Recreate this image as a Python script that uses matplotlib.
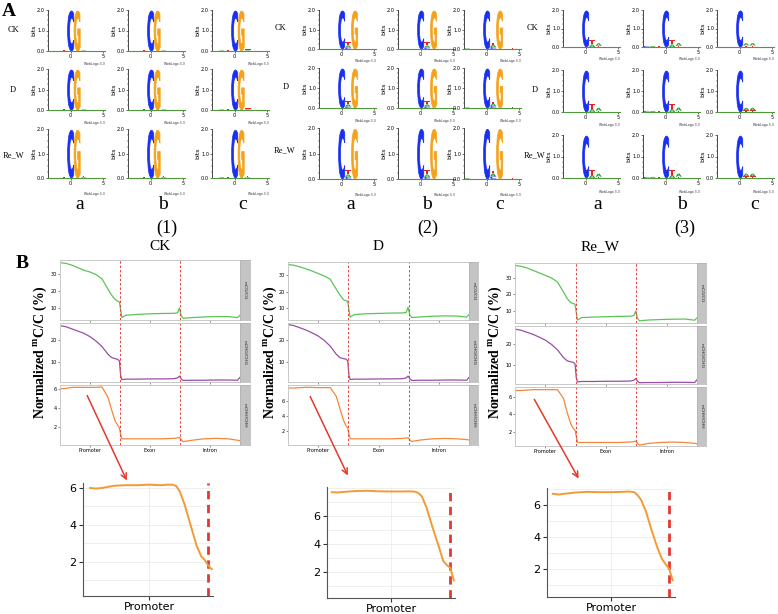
import matplotlib
matplotlib.use("Agg")
import matplotlib.pyplot as plt
from matplotlib.textpath import TextPath
from matplotlib.patches import PathPatch, FancyArrowPatch
from matplotlib.font_manager import FontProperties
from matplotlib.transforms import Affine2D
from matplotlib.ticker import MultipleLocator

plt.rcParams['mathtext.fontset'] = 'custom'
plt.rcParams['mathtext.rm'] = 'Liberation Serif'
plt.rcParams['mathtext.bf'] = 'Liberation Serif:bold'

# ---- data: sequence logos (position, letter, bits), stacked bottom to top
logo_cg = [(-1, 'T', 0.04), (0, 'C', 1.95), (1, 'G', 1.95), (2, 'A', 0.03), (2, 'T', 0.04)]
logo_cg_c = [(-2, 'A', 0.03), (-1, 'T', 0.05), (0, 'C', 1.95), (1, 'G', 1.95), (2, 'A', 0.03), (2, 'T', 0.05)]
logo_chg = [(0, 'C', 1.95), (1, 'C', 0.08), (1, 'A', 0.1), (1, 'T', 0.16), (2, 'G', 1.95)]
logo_chg_c = [(-3, 'A', 0.03), (0, 'C', 1.95), (1, 'C', 0.1), (1, 'A', 0.12), (1, 'T', 0.1), (2, 'G', 1.95), (4, 'T', 0.04)]
logo_chh = [(0, 'C', 1.95), (1, 'A', 0.14), (1, 'T', 0.22), (2, 'T', 0.06), (2, 'A', 0.14)]
logo_chh_b = [(-3, 'C', 0.05), (-2, 'A', 0.05), (-1, 'T', 0.06), (0, 'C', 1.95), (1, 'A', 0.14), (1, 'T', 0.24),
              (2, 'T', 0.06), (2, 'A', 0.15)]
logo_chh_c = [(0, 'C', 1.95), (1, 'T', 0.08), (1, 'A', 0.12), (2, 'T', 0.08), (2, 'A', 0.12)]

samples = ['CK', 'D', 'Re_W']
columns = ['a', 'b', 'c']
group_names = ['(1)', '(2)', '(3)']

# ---- data: methylation level along gene body (0-1 promoter, 1-2 exon, 2-3 intron)
regions = ['Promoter', 'Exon', 'Intron']
contexts = ['mCG/CG', 'mCHG/CHG', 'mCHH/CHH']
gene_x = [0.0, 0.1, 0.2, 0.3, 0.4, 0.5, 0.6, 0.7, 0.8, 0.86, 0.92, 0.96, 0.99, 1.01, 1.03,
          1.1, 1.3, 1.5, 1.7, 1.9, 1.96, 1.99, 2.02, 2.05, 2.2, 2.4, 2.6, 2.8, 2.96, 3.0]

ck_cg = [36.5, 36, 35, 33.5, 32, 31, 29.5, 27, 21, 17.5, 15, 14, 13.5, 9, 4.5,
         5.8, 6.3, 6.6, 6.8, 6.9, 7.2, 10, 5.5, 4, 4.4, 4.8, 5.0, 5.0, 4.4, 5.8]
ck_chg = [26.5, 26, 25, 24, 23, 21.5, 19.5, 17, 13.5, 12, 11.5, 11.2, 10.5, 4, 2.0,
          2.2, 2.2, 2.3, 2.3, 2.4, 2.8, 3.6, 2.3, 1.6, 1.7, 1.7, 1.8, 1.8, 1.7, 3.0]
ck_chh = [6.0, 6.05, 6.15, 6.15, 6.15, 6.15, 6.15, 6.2, 5.1, 3.8, 2.6, 2.2, 1.9, 1.2, 0.75,
          0.75, 0.75, 0.75, 0.75, 0.8, 0.85, 0.9, 0.65, 0.45, 0.6, 0.75, 0.8, 0.75, 0.6, 0.55]

d_cg = [36.5, 36, 35, 33.8, 32.5, 31, 29.5, 27.5, 21.5, 18, 15, 14.5, 14, 9, 4.5,
        6.0, 6.5, 6.7, 6.9, 7.0, 7.3, 10.5, 5.5, 4.2, 4.6, 5.0, 5.2, 5.1, 4.5, 6.0]
d_chg = [27, 26.5, 25.5, 24.5, 23.2, 21.8, 19.8, 17.2, 13.5, 12, 11.5, 11.3, 10.5, 4, 2.0,
         2.2, 2.2, 2.3, 2.3, 2.4, 2.8, 3.6, 2.3, 1.6, 1.7, 1.7, 1.8, 1.8, 1.7, 3.0]
d_chh = [7.7, 7.7, 7.75, 7.8, 7.78, 7.75, 7.75, 7.75, 6.6, 5.0, 3.4, 2.7, 2.4, 1.6, 0.95,
         0.95, 0.95, 0.95, 0.95, 1.0, 1.05, 1.1, 0.8, 0.6, 0.8, 0.95, 1.0, 0.95, 0.85, 0.8]

rew_cg = [37.5, 37, 36, 34.5, 33, 31.5, 30, 27.5, 21.5, 17.5, 15, 14.5, 14, 9, 4.5,
          6.0, 6.3, 6.5, 6.7, 6.8, 7.2, 10, 5.5, 4.0, 4.5, 4.8, 5.0, 5.1, 4.4, 5.8]
rew_chg = [27, 26.5, 25.5, 24.5, 23.2, 21.8, 19.8, 17.2, 13.5, 12, 11.5, 11.3, 10.5, 4, 2.0,
           2.2, 2.2, 2.3, 2.3, 2.4, 2.8, 3.6, 2.3, 1.6, 1.7, 1.7, 1.8, 1.8, 1.7, 3.0]
rew_chh = [6.7, 6.7, 6.75, 6.8, 6.8, 6.8, 6.8, 6.8, 5.8, 4.2, 2.9, 2.4, 2.2, 1.5, 0.8,
           0.8, 0.8, 0.8, 0.8, 0.85, 0.9, 0.95, 0.7, 0.5, 0.7, 0.8, 0.85, 0.8, 0.7, 0.65]

# ---- data: zoomed promoter CHH
promoter_x = [0.0, 0.05, 0.1, 0.2, 0.3, 0.4, 0.5, 0.6, 0.65, 0.7, 0.73, 0.76, 0.8, 0.85, 0.9,
              0.94, 0.97, 1.0, 1.03]
ck_promoter = [6.0, 5.97, 6.0, 6.12, 6.15, 6.15, 6.18, 6.15, 6.18, 6.18, 6.1, 5.8, 5.1, 4.0, 2.9,
               2.3, 2.1, 1.8, 1.6]
d_promoter = [7.7, 7.68, 7.72, 7.78, 7.8, 7.76, 7.75, 7.75, 7.76, 7.74, 7.65, 7.4, 6.6, 5.2, 3.9,
              2.8, 2.5, 2.3, 1.4]
rew_promoter = [6.7, 6.65, 6.7, 6.78, 6.82, 6.8, 6.8, 6.82, 6.84, 6.8, 6.6, 6.3, 5.6, 4.4, 3.3,
                2.6, 2.3, 2.0, 1.3]

W, H = 778, 614
fig = plt.figure(figsize=(W / 100, H / 100), dpi=100)
fig.patch.set_facecolor('white')


def add_px(l, t, r, b):
    return fig.add_axes([l / W, 1 - b / H, (r - l) / W, (b - t) / H])


def fxy(x, y):
    return (x / W, 1 - y / H)


serif = 'Liberation Serif'
logo_font = FontProperties(family='DejaVu Sans', weight='bold')
letter_colors = {'A': '#1f9e2a', 'C': '#1b2ff0', 'G': '#f5a21b', 'T': '#e8231f'}


def draw_logo(ax, stacks):
    base = {}
    for pos, ch, h in stacks:
        y0 = base.get(pos, 0)
        tp = TextPath((0, 0), ch, size=1, prop=logo_font)
        bb = tp.get_extents()
        tr = Affine2D().translate(-bb.x0, -bb.y0).scale(0.95 / bb.width, h / bb.height).translate(pos - 0.475, y0)
        edge = 0.5 if h > 0.5 else 0
        ax.add_patch(PathPatch(tr.transform_path(tp), fc=letter_colors[ch], ec=letter_colors[ch], lw=edge))
        base[pos] = y0 + h
    ax.set_xlim(-3.5, 5.3)
    ax.set_ylim(0, 2.0)
    for s in ['top', 'right']:
        ax.spines[s].set_visible(False)
    ax.spines['left'].set_linewidth(0.5)
    ax.spines['bottom'].set_color('#4f9a3a')
    ax.spines['bottom'].set_linewidth(0.8)
    ax.set_xticks([0, 5])
    ax.xaxis.set_minor_locator(MultipleLocator(1))
    ax.set_yticks([0, 1, 2])
    ax.set_yticklabels(['0.0', '1.0', '2.0'])
    ax.yaxis.set_minor_locator(MultipleLocator(0.25))
    ax.tick_params(labelsize=3.6, length=1.5, width=0.4, pad=0.6)
    ax.tick_params(which='minor', length=0.8, width=0.3)
    ax.set_ylabel('bits', fontsize=4.5, labelpad=0.5)
    ax.text(1.0, -0.34, 'WebLogo 3.3', transform=ax.transAxes, fontsize=2.3, ha='right', color='#334')


# ---------------- Part A
fig.text(*fxy(9, 12), 'A', fontsize=14, fontweight='bold', family=serif, ha='center', va='center')

group_lefts = [[48, 128, 212], [319, 398, 464], [563, 643, 717]]
group_rows = [[(10, 51), (69, 110), (129, 178)],
              [(10, 49), (68, 108), (128, 179)],
              [(10, 47), (70, 112), (135, 178)]]
row_label_pos = [[(13, 30), (13, 90), (14, 155)],
                 [(280, 28), (286, 87), (285, 150)],
                 [(532, 28), (535, 90), (535, 155)]]
col_letter_x = [[80, 163, 243], [351, 427, 500], [598, 682, 755]]
group_label_x = [167, 428, 685]
group_logos = [[logo_cg, logo_cg, logo_cg_c],
               [logo_chg, logo_chg, logo_chg_c],
               [logo_chh, logo_chh_b, logo_chh_c]]

for g in range(3):
    for r in range(3):
        top, bot = group_rows[g][r]
        for c in range(3):
            l = group_lefts[g][c]
            ax = add_px(l, top, l + 57, bot)
            draw_logo(ax, group_logos[g][c])
        lx, ly = row_label_pos[g][r]
        fig.text(*fxy(lx, ly), samples[r], fontsize=6, family=serif, ha='center', va='center')
    for c in range(3):
        fig.text(*fxy(col_letter_x[g][c], 205), columns[c], fontsize=14, family=serif, ha='center', va='center')
    fig.text(*fxy(group_label_x[g], 228), group_names[g], fontsize=13, family=serif, ha='center', va='center')

# ---------------- Part B
fig.text(*fxy(22, 263), 'B', fontsize=14, fontweight='bold', family=serif, ha='center', va='center')

line_colors = ['#5cc456', '#9a4ea6', '#f5873a']
facet_x = [(60, 240, 250), (288, 469, 478), (515, 697, 706)]
facet_rows = [[(260, 320), (323, 382), (385, 445)],
              [(262, 320), (323, 382), (385, 445)],
              [(263, 323), (326, 384), (387, 446)]]
facet_ylims = [[(3, 38), (0.9, 27.7), (0.1, 6.4)],
               [(2.7, 38), (0.9, 27.7), (0.13, 8.1)],
               [(2.7, 39), (1.0, 28.5), (0.4, 7.1)]]
facet_yticks = [[10, 20, 30], [10, 20], [2, 4, 6]]
facet_series = [[ck_cg, ck_chg, ck_chh], [d_cg, d_chg, d_chh], [rew_cg, rew_chg, rew_chh]]
title_x = [160, 378, 600]
ylabel_x = [40, 270, 495]

for s in range(3):
    l, r, sr = facet_x[s]
    fig.text(*fxy(title_x[s], 247), samples[s], fontsize=11, family=serif, ha='center', va='center')
    fig.text(*fxy(ylabel_x[s], 352), r'Normalized $^{\mathbf{m}}$C/C (%)', fontsize=10, family=serif,
             fontweight='bold', rotation=90, ha='center', va='center')
    for k in range(3):
        top, bot = facet_rows[s][k]
        ax = add_px(l, top, r, bot)
        ax.plot(gene_x, facet_series[s][k], color=line_colors[k], lw=0.9)
        for b in [1, 2]:
            ax.axvline(b, color='#e8413a', lw=0.7, ls=(0, (2.5, 2)))
        ax.set_xlim(0, 3)
        ax.set_ylim(*facet_ylims[s][k])
        ax.set_yticks(facet_yticks[k])
        ax.set_xticks([0.5, 1.5, 2.5])
        if k == 2:
            ax.set_xticklabels(regions)
        else:
            ax.set_xticklabels([])
            ax.tick_params(axis='x', length=0)
        for sp in ax.spines.values():
            sp.set_color('#c8c8c8')
            sp.set_linewidth(0.7)
        ax.tick_params(labelsize=3.6, length=1.5, width=0.4, pad=0.8, color='#333333')
        sax = add_px(r, top, sr, bot)
        sax.set_facecolor('#c4c4c4')
        sax.set_xticks([])
        sax.set_yticks([])
        for sp in sax.spines.values():
            sp.set_color('#b0b0b0')
            sp.set_linewidth(0.5)
        sax.text(0.5, 0.5, contexts[k], rotation=-90, fontsize=3.2, ha='center', va='center',
                 transform=sax.transAxes, color='#222222')

# ---------------- zoomed promoter CHH
inset_boxes = [(83, 483, 213, 596), (327, 487, 455, 598), (547, 488, 675, 597)]
inset_xlims = [(-0.06, 1.04), (-0.04, 1.04), (-0.05, 1.05)]
inset_ylims = [(0.15, 6.27), (0.14, 8.07), (0.25, 7.06)]
inset_series = [ck_promoter, d_promoter, rew_promoter]
arrows = [((86, 393), (128, 483)), ((309, 394), (349, 478)), ((533, 397), (580, 481))]

for s in range(3):
    ax = add_px(*inset_boxes[s])
    ax.plot(promoter_x, inset_series[s], color='#f39a35', lw=1.4, zorder=3)
    ax.axvline(1.0, color='#e03a32', lw=2, ls=(0, (3, 2)), zorder=2)
    ax.set_xlim(*inset_xlims[s])
    ax.set_ylim(*inset_ylims[s])
    ax.set_xticks([0.5])
    ax.set_xticklabels(['Promoter'])
    ax.set_yticks([2, 4, 6])
    ax.yaxis.set_minor_locator(MultipleLocator(1))
    ax.grid(True, which='both', color='#ececec', lw=0.6)
    ax.set_axisbelow(True)
    for sp in ['top', 'right']:
        ax.spines[sp].set_visible(False)
    for sp in ['left', 'bottom']:
        ax.spines[sp].set_color('#555555')
        ax.spines[sp].set_linewidth(0.8)
    ax.tick_params(labelsize=8, length=3, width=0.8, pad=1.5, color='#333333')
    ax.tick_params(which='minor', length=0)
    a, b = arrows[s]
    fig.add_artist(FancyArrowPatch(fxy(*a), fxy(*b), transform=fig.transFigure, arrowstyle='->',
                                   mutation_scale=10, color='#e5392c', lw=1.1))

fig.savefig('out.png', dpi=100)
